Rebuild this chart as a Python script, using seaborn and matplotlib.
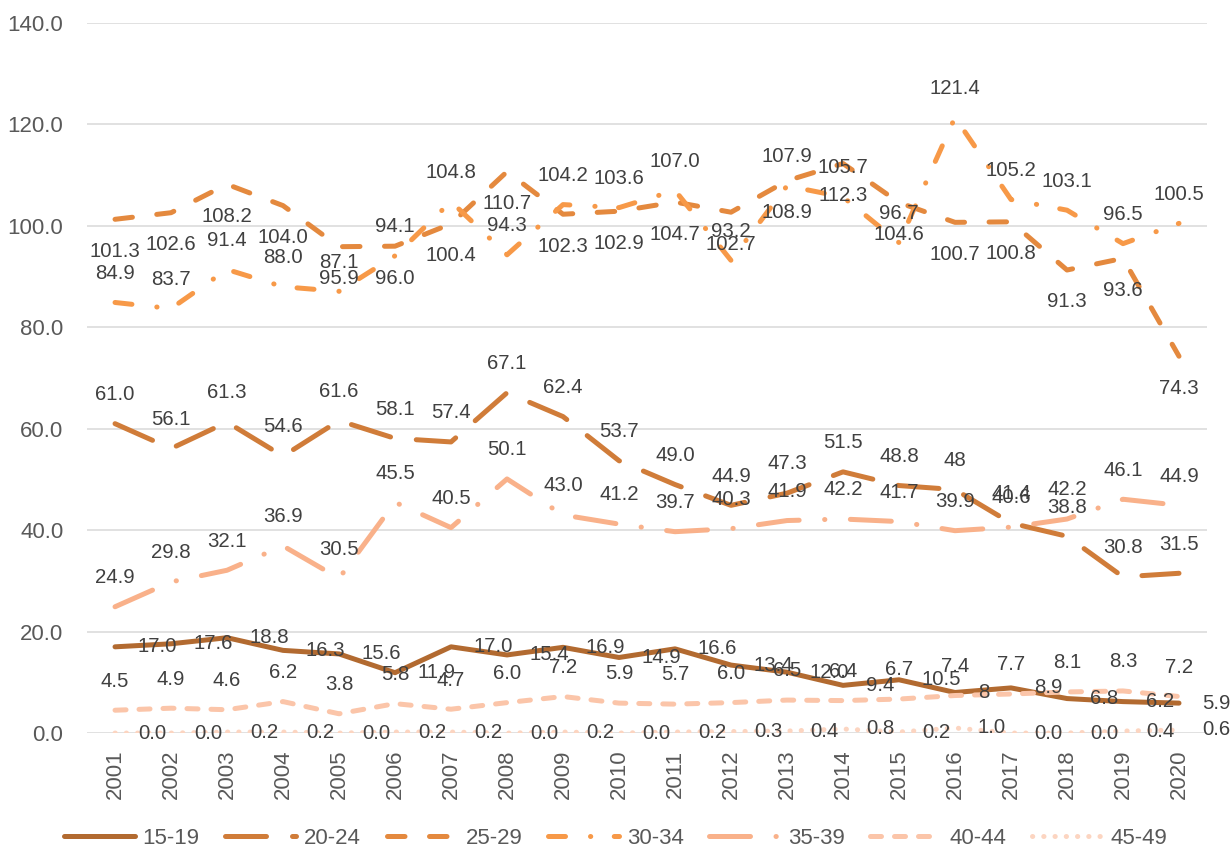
import matplotlib
matplotlib.use("Agg")
import matplotlib.pyplot as plt
from matplotlib.ticker import FormatStrFormatter
import seaborn as sns
import pandas as pd

# ---------------- data ----------------
years = list(range(2001, 2021))
groups = ["15-19", "20-24", "25-29", "30-34", "35-39", "40-44", "45-49"]

v15_19 = [17.0, 17.6, 18.8, 16.3, 15.6, 11.9, 17.0, 15.4, 16.9, 14.9,
          16.6, 13.4, 12.0, 9.4, 10.5, 8, 8.9, 6.8, 6.2, 5.9]
v20_24 = [61.0, 56.1, 61.3, 54.6, 61.6, 58.1, 57.4, 67.1, 62.4, 53.7,
          49.0, 44.9, 47.3, 51.5, 48.8, 48, 41.4, 38.8, 30.8, 31.5]
v25_29 = [101.3, 102.6, 108.2, 104.0, 95.9, 96.0, 100.4, 110.7, 102.3, 102.9,
          104.7, 102.7, 108.9, 112.3, 104.6, 100.7, 100.8, 91.3, 93.6, 74.3]
v30_34 = [84.9, 83.7, 91.4, 88.0, 87.1, 94.1, 104.8, 94.3, 104.2, 103.6,
          107.0, 93.2, 107.9, 105.7, 96.7, 121.4, 105.2, 103.1, 96.5, 100.5]
v35_39 = [24.9, 29.8, 32.1, 36.9, 30.5, 45.5, 40.5, 50.1, 43.0, 41.2,
          39.7, 40.3, 41.9, 42.2, 41.7, 39.9, 40.6, 42.2, 46.1, 44.9]
v40_44 = [4.5, 4.9, 4.6, 6.2, 3.8, 5.8, 4.7, 6.0, 7.2, 5.9,
          5.7, 6.0, 6.5, 6.4, 6.7, 7.4, 7.7, 8.1, 8.3, 7.2]
v45_49 = [0.0, 0.0, 0.2, 0.2, 0.0, 0.2, 0.2, 0.0, 0.2, 0.0,
          0.2, 0.3, 0.4, 0.8, 0.2, 1.0, 0.0, 0.0, 0.4, 0.6]

series = [v15_19, v20_24, v25_29, v30_34, v35_39, v40_44, v45_49]

# ---------------- styles ----------------
colors = ["#B26A30", "#D07C39", "#E4893E", "#F79948", "#F9B18A", "#FBC5A9", "#FCD5C1"]
dashes = ["", (8.2, 5.2), (3.5, 4.9), (3.4, 5.0, 0.05, 4.7),
          (8.2, 5.1, 0.05, 5.1), (2.2, 2.6), (0.05, 2.2)]
# label placement per series: (dx, dy, ha) in points
label_pos = [(16.5, 0, "left"), (0, 21, "center"), (0, -23, "center"),
             (0, 21, "center"), (0, 21, "center"), (0, 21, "center"),
             (16.5, 0, "left")]

rows = []
for g, vals in zip(groups, series):
    for y, v in zip(years, vals):
        rows.append({"year": y, "group": g, "value": float(v)})
df = pd.DataFrame(rows)

sns.set_style("white")
plt.rcParams["font.family"] = ["Liberation Sans", "DejaVu Sans"]

fig = plt.figure(figsize=(12.31, 8.5), dpi=100)
ax = fig.add_axes([0.0707, 0.1376, 0.9098, 0.8353])

sns.lineplot(data=df, x="year", y="value", hue="group", style="group",
             hue_order=groups, style_order=groups,
             palette=colors, dashes=dashes, linewidth=3.6,
             legend=False, ax=ax, sort=True,
             dash_capstyle="round", solid_capstyle="round",
             solid_joinstyle="round", dash_joinstyle="round")

# data labels
for vals, (dx, dy, ha) in zip(series, label_pos):
    for y, v in zip(years, vals):
        txt = str(v) if isinstance(v, int) else f"{v:.1f}"
        ax.annotate(txt, (y, v), xytext=(dx, dy), textcoords="offset points",
                    ha=ha, va="center", fontsize=14.7, color="#404040",
                    zorder=10, annotation_clip=False)

ax.set_xlim(2000.5, 2020.5)
ax.set_ylim(0, 140)
ax.set_yticks(range(0, 141, 20))
ax.yaxis.set_major_formatter(FormatStrFormatter("%.1f"))
ax.set_xticks(years)
ax.set_xticklabels([str(y) for y in years], rotation=90)
ax.tick_params(axis="y", length=0, pad=17, labelsize=16, labelcolor="#595959")
ax.tick_params(axis="x", length=0, pad=12, labelsize=16, labelcolor="#595959")
ax.set_xlabel("")
ax.set_ylabel("")
for s in ax.spines.values():
    s.set_visible(False)
ax.grid(axis="y", color="#D9D9D9", linewidth=1.1)
ax.grid(axis="x", visible=False)
ax.set_axisbelow(True)

handles = ax.get_lines()[:len(groups)]
fig.legend(handles, groups, loc="center", bbox_to_anchor=(0.5, 0.014),
           ncol=7, frameon=False, fontsize=16, handlelength=3.2,
           handletextpad=0.35, columnspacing=1.15, labelcolor="#595959")

fig.savefig("out.png", dpi=100)
